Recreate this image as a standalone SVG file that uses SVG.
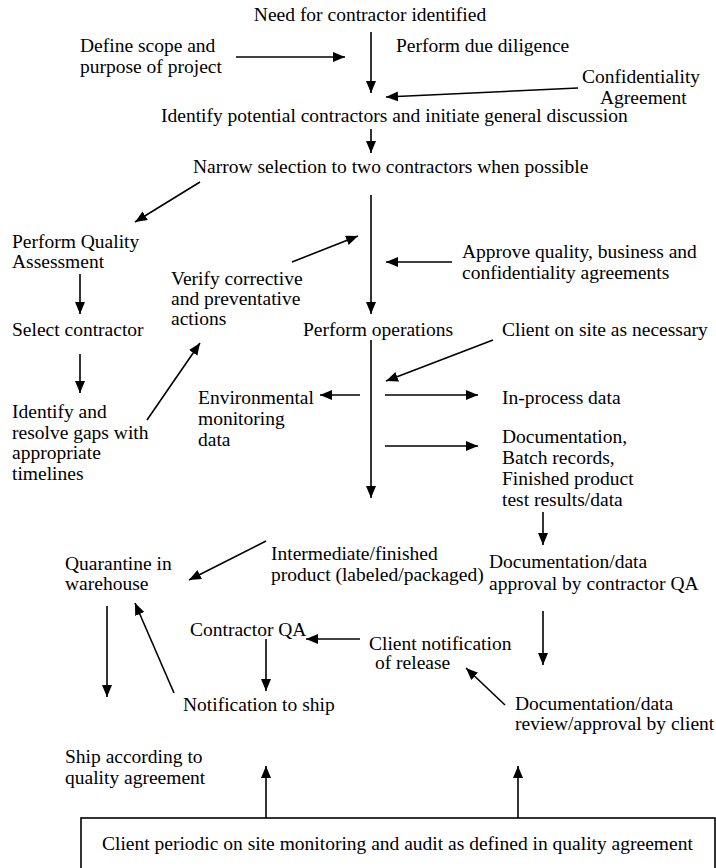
<svg xmlns="http://www.w3.org/2000/svg" width="716" height="868" viewBox="0 0 716 868">
  <style>
    text { font-family: "Liberation Serif", "Times New Roman", serif; font-size: 19.5px; fill: #000; }
    .conn { stroke: #000; stroke-width: 1.6; fill: none; marker-end: url(#arrow); }
    .box { fill: #fff; stroke: #000; stroke-width: 1.6; }
  </style>
  <defs>
    <marker id="arrow" markerUnits="userSpaceOnUse" markerWidth="14" markerHeight="12" refX="12" refY="5" orient="auto">
      <path d="M0,0 L12,5 L0,10 Z" fill="#000"/>
    </marker>
  </defs>
  <rect width="716" height="868" fill="#fff"/>

  <!-- connectors -->
  <g id="connectors">
    <line class="conn" x1="371" y1="32" x2="371" y2="93"/>
    <line class="conn" x1="236" y1="57" x2="345" y2="57"/>
    <line class="conn" x1="578" y1="88" x2="386" y2="97"/>
    <line class="conn" x1="371" y1="129" x2="371" y2="153"/>
    <line class="conn" x1="200" y1="182" x2="135" y2="222"/>
    <line class="conn" x1="80" y1="274" x2="80" y2="314"/>
    <line class="conn" x1="371" y1="195" x2="371" y2="314"/>
    <line class="conn" x1="292" y1="262" x2="358" y2="236"/>
    <line class="conn" x1="452" y1="262" x2="386" y2="262"/>
    <line class="conn" x1="80" y1="354" x2="80" y2="393"/>
    <line class="conn" x1="493" y1="340" x2="386" y2="381"/>
    <line class="conn" x1="147" y1="420" x2="200" y2="343"/>
    <line class="conn" x1="371" y1="340" x2="371" y2="498"/>
    <line class="conn" x1="360" y1="395" x2="320" y2="395"/>
    <line class="conn" x1="385" y1="395" x2="478" y2="395"/>
    <line class="conn" x1="385" y1="446" x2="478" y2="446"/>
    <line class="conn" x1="543" y1="512" x2="543" y2="545"/>
    <line class="conn" x1="266" y1="541" x2="189" y2="580"/>
    <line class="conn" x1="543" y1="611" x2="543" y2="665"/>
    <line class="conn" x1="360" y1="639" x2="306" y2="639"/>
    <line class="conn" x1="266" y1="639" x2="266" y2="691"/>
    <line class="conn" x1="174" y1="693" x2="135" y2="603"/>
    <line class="conn" x1="107" y1="606" x2="107" y2="697"/>
    <line class="conn" x1="505" y1="705" x2="466" y2="668"/>
    <line class="conn" x1="266" y1="818" x2="266" y2="766"/>
    <line class="conn" x1="518" y1="818" x2="518" y2="766"/>
  </g>

  <g id="need"><text x="370" y="21" text-anchor="middle">Need for contractor identified</text></g>
  <g id="scope"><text x="80" y="52">Define scope and</text><text x="80" y="73">purpose of project</text></g>
  <g id="diligence"><text x="396" y="52">Perform due diligence</text></g>
  <g id="confidentiality"><text x="582" y="83">Confidentiality</text><text x="600" y="104">Agreement</text></g>
  <g id="identify"><text x="161" y="122">Identify potential contractors and initiate general discussion</text></g>
  <g id="narrow"><text x="193" y="173">Narrow selection to two contractors when possible</text></g>
  <g id="assessment"><text x="12" y="248">Perform Quality</text><text x="12" y="268">Assessment</text></g>
  <g id="verify"><text x="171" y="285">Verify corrective</text><text x="171" y="305">and preventative</text><text x="171" y="325">actions</text></g>
  <g id="approve"><text x="462" y="258">Approve quality, business and</text><text x="462" y="279">confidentiality agreements</text></g>
  <g id="select"><text x="12" y="336">Select contractor</text></g>
  <g id="operations"><text x="303" y="336">Perform operations</text></g>
  <g id="client-site"><text x="502" y="336">Client on site as necessary</text></g>
  <g id="gaps"><text x="12" y="418">Identify and</text><text x="12" y="439">resolve gaps with</text><text x="12" y="459">appropriate</text><text x="12" y="480">timelines</text></g>
  <g id="environmental"><text x="198" y="404">Environmental</text><text x="198" y="425">monitoring</text><text x="198" y="446">data</text></g>
  <g id="inprocess"><text x="502" y="404">In-process data</text></g>
  <g id="documentation"><text x="502" y="443">Documentation,</text><text x="502" y="464">Batch records,</text><text x="502" y="485">Finished product</text><text x="502" y="506">test results/data</text></g>
  <g id="intermediate"><text x="271" y="560">Intermediate/finished</text><text x="271" y="581">product (labeled/packaged)</text></g>
  <g id="quarantine"><text x="65" y="570">Quarantine in</text><text x="65" y="590">warehouse</text></g>
  <g id="contractor-approval"><text x="489" y="568">Documentation/data</text><text x="489" y="590">approval by contractor QA</text></g>
  <g id="contractor-qa"><text x="190" y="636">Contractor QA</text></g>
  <g id="release"><text x="369" y="650">Client notification</text><text x="375" y="669">of release</text></g>
  <g id="client-review"><text x="515" y="710">Documentation/data</text><text x="515" y="730">review/approval by client</text></g>
  <g id="notify-ship"><text x="183" y="711">Notification to ship</text></g>
  <g id="ship"><text x="65" y="763">Ship according to</text><text x="65" y="784">quality agreement</text></g>
  <g id="audit">
    <rect class="box" x="81" y="818" width="634" height="52"/>
    <text x="102" y="850">Client periodic on site monitoring and audit as defined in quality agreement</text>
  </g>
</svg>
